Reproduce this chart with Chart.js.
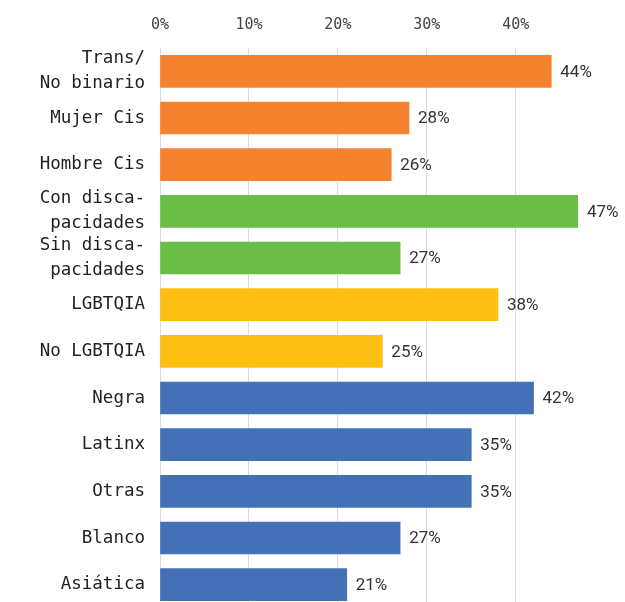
<!DOCTYPE html>
<html>
<head>
<meta charset="utf-8">
<script src="https://cdn.jsdelivr.net/npm/chart.js@4"></script>
<style>
  html, body { margin: 0; padding: 0; background: #fff; overflow: hidden; }
  canvas { display: block; }
</style>
</head>
<body>
<canvas id="chart" width="625" height="608"></canvas>
<script>
const categories = [
  ["Trans/", "No binario"],
  "Mujer Cis",
  "Hombre Cis",
  ["Con disca-", "pacidades"],
  ["Sin disca-", "pacidades"],
  "LGBTQIA",
  "No LGBTQIA",
  "Negra",
  "Latinx",
  "Otras",
  "Blanco",
  "Asiática",
];
const values = [44, 28, 26, 47, 27, 38, 25, 42, 35, 35, 27, 21];
const groups = ["g", "g", "g", "d", "d", "l", "l", "r", "r", "r", "r", "r"];
const groupColors = { g: "#F4822F", d: "#6BBE45", l: "#FDBF14", r: "#4470B7" };
const tickValues = [0, 10, 20, 30, 40];

const MONO = "'DejaVu Sans Mono', monospace";

// etiqueta de valor a la derecha de cada barra
const valueLabels = {
  id: "valueLabels",
  afterDatasetsDraw(chart) {
    const { ctx } = chart;
    const meta = chart.getDatasetMeta(0);
    ctx.save();
    ctx.font = "17px Roboto, 'Noto Sans', sans-serif";
    ctx.fillStyle = "#333";
    ctx.textAlign = "left";
    ctx.textBaseline = "middle";
    meta.data.forEach((bar, i) => {
      ctx.fillText(`${values[i]}%`, bar.x + 9, bar.y + 1);
    });
    ctx.restore();
  },
};

new Chart(document.getElementById("chart"), {
  type: "bar",
  data: {
    labels: categories,
    datasets: [{
      data: values,
      backgroundColor: groups.map((g) => groupColors[g]),
      barThickness: 32,
    }],
  },
  plugins: [valueLabels],
  options: {
    indexAxis: "y",
    responsive: false,
    animation: false,
    layout: { padding: { top: 1, right: 47, bottom: 0, left: 0 } },
    plugins: { legend: { display: false }, tooltip: { enabled: false } },
    scales: {
      x: {
        position: "top",
        min: 0,
        max: 47,
        afterBuildTicks: (scale) => {
          scale.ticks = tickValues.map((v) => ({ value: v }));
        },
        afterFit: (scale) => { scale.height = 47; },
        border: { display: false },
        grid: { color: "#dcdcdc", lineWidth: 1, drawTicks: false },
        ticks: {
          padding: 14,
          color: "#444",
          font: { family: MONO, size: 15 },
          callback: (v) => `${v}%`,
        },
      },
      y: {
        afterFit: (scale) => {
          scale.width = 160;
          scale.paddingTop = 0;
          scale.paddingBottom = 0;
        },
        border: { display: false },
        grid: { display: false, drawTicks: false },
        ticks: {
          autoSkip: false,
          padding: 15,
          color: "#222",
          font: { family: MONO, size: 17.5, lineHeight: 1.42 },
        },
      },
    },
  },
});
</script>
</body>
</html>
